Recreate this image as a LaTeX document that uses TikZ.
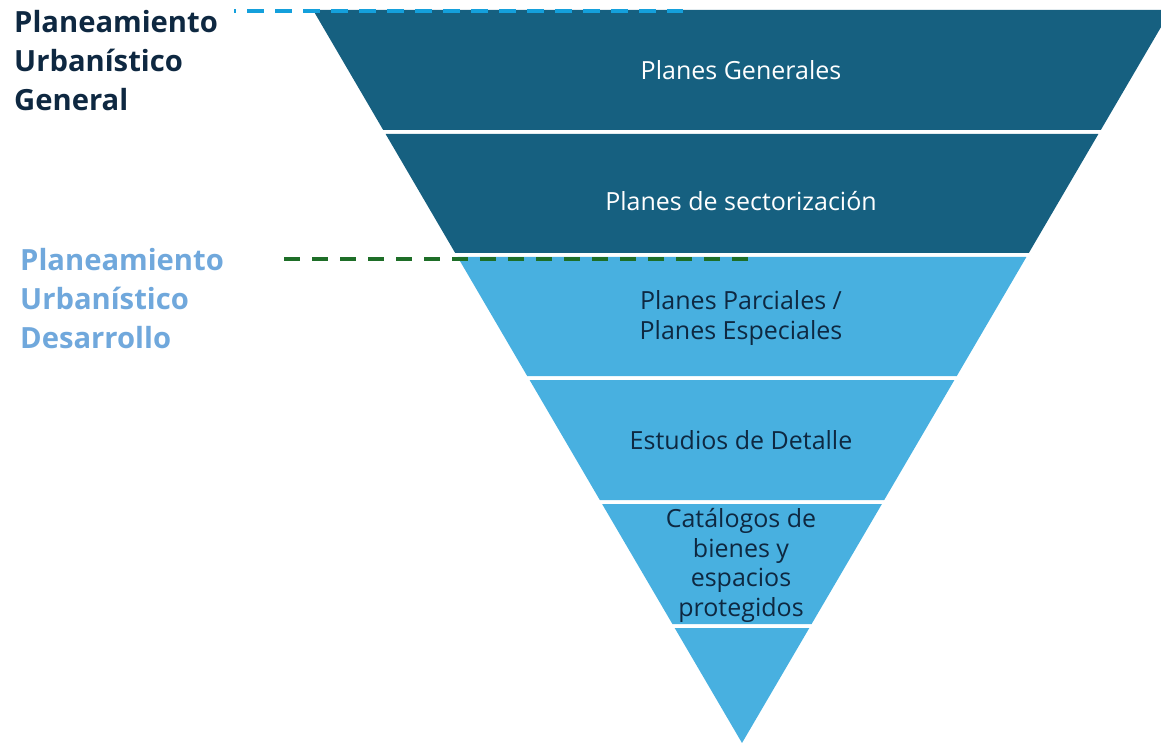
\documentclass[tikz,border=0pt]{standalone}
\usepackage{fontspec}
\setmainfont{Open Sans}
\definecolor{darkband}{RGB}{22,96,128}
\definecolor{lightband}{RGB}{72,176,224}
\definecolor{bluedashc}{RGB}{20,160,220}
\definecolor{greendashc}{RGB}{30,110,40}
\definecolor{navytext}{RGB}{14,40,65}
\definecolor{paleblue}{RGB}{112,168,220}
\tikzset{
  darkfill/.style={fill=darkband, draw=none},
  lightfill/.style={fill=lightband, draw=none},
  whitetxt/.style={text=white, font=\fontsize{25}{30}\selectfont, align=center, inner sep=0pt},
  darktxt/.style={text=navytext, font=\fontsize{25}{29.5}\selectfont, align=center, inner sep=0pt},
  sidelabel/.style={font=\fontsize{29.2}{38.8}\selectfont\bfseries, align=left, inner sep=0pt, anchor=north west},
  bluedash/.style={draw=bluedashc, line width=3.8pt, dash pattern=on 16.5pt off 11.5pt, dash phase=15pt},
  greendash/.style={draw=greendashc, line width=3.8pt, dash pattern=on 16pt off 12pt},
}
\begin{document}
\begin{tikzpicture}[x=1pt, y=-1pt]
\useasboundingbox (0,0) rectangle (1161,743);
% bands
\fill[darkfill] (313,10) -- (1171,10) -- (1100.8,130) -- (383.2,130) -- cycle;
\fill[darkfill] (385.6,134) -- (1098.4,134) -- (1028.8,253) -- (455.2,253) -- cycle;
\fill[lightfill] (457.6,257) -- (1026.4,257) -- (956.8,376) -- (527.2,376) -- cycle;
\fill[lightfill] (529.6,380) -- (954.4,380) -- (884.2,500) -- (599.8,500) -- cycle;
\fill[lightfill] (602.1,504) -- (881.9,504) -- (811.6,624) -- (672.4,624) -- cycle;
\fill[lightfill] (674.7,628) -- (809.3,628) -- (742,743) -- cycle;
% band texts
\node[whitetxt] (t1) at (741,70) {Planes Generales};
\node[whitetxt] (t2) at (741,201) {Planes de sectorización};
\node[darktxt, font=\fontsize{25}{30}\selectfont] (t3) at (741,318) {Planes Parciales /\\Planes Especiales};
\node[darktxt] (t4) at (741,440) {Estudios de Detalle};
\node[darktxt] (t5) at (741,565.5) {Catálogos de\\bienes y\\espacios\\protegidos};
% side labels
\node[sidelabel, text=navytext] (lg) at (14,10.5) {Planeamiento\\Urbanístico\\General};
\node[sidelabel, text=paleblue] (ld) at (20,248.5) {Planeamiento\\Urbanístico\\Desarrollo};
% dashed guide lines
\coordinate (bA) at (234,11);
\coordinate (bB) at (683,11);
\coordinate (gA) at (284,259);
\coordinate (gB) at (748,259);
\draw[bluedash] (bA) -- (bB);
\draw[greendash] (gA) -- (gB);
\end{tikzpicture}
\end{document}
